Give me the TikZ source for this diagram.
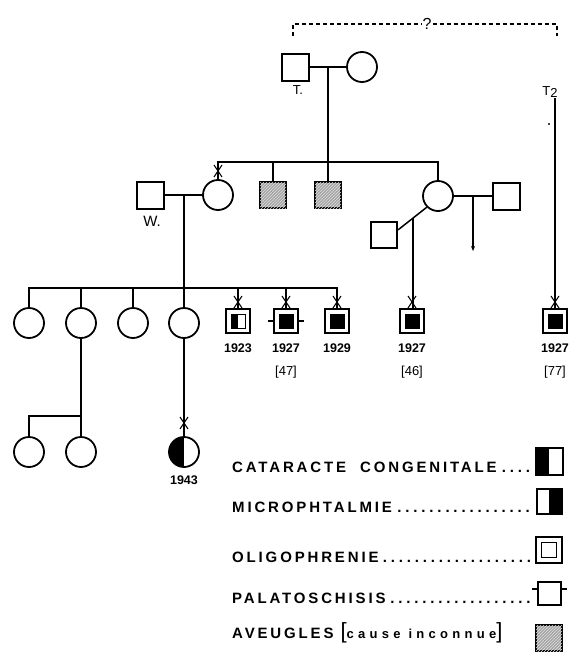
\documentclass[tikz,border=0pt]{standalone}
\usepackage{fontspec}
\setmainfont{Liberation Sans}
\newfontfamily\legfont[LetterSpace=19]{Liberation Sans}
\newfontfamily\smalllegfont[LetterSpace=33]{Liberation Sans}
\usetikzlibrary{positioning,arrows.meta,calc,patterns}
\newcommand\legdots{\cleaders\hbox to 8pt{\hss.\hss}\hfill}

\begin{document}
\begin{tikzpicture}[x=1pt,y=-1pt,
    every node/.style={font=\fontsize{13}{13}\selectfont},
    ln/.style={line width=1.5pt},
    male/.style={draw,line width=2pt,minimum size=27pt,inner sep=0pt,fill=white},
    female/.style={draw,circle,line width=1.8pt,minimum size=30pt,inner sep=0pt,fill=white},
    blind/.style={male,minimum size=26pt,fill=gray!70,
                  postaction={pattern=north east lines,pattern color=gray!25}},
    oligo/.style={draw,line width=2.2pt,minimum size=24pt,inner sep=0pt,fill=white},
    eyes/.style={draw,line width=0.8pt,minimum size=14pt,inner sep=0pt,fill=black},
    halfL/.style={path picture={\fill[black] (path picture bounding box.south west) rectangle (path picture bounding box.north);}},
    halfR/.style={path picture={\fill[black] (path picture bounding box.south) rectangle (path picture bounding box.north east);}},
    year/.style={inner sep=0pt,font=\bfseries\fontsize{12.5}{12.5}\selectfont},
    legtxt/.style={anchor=west,inner sep=0pt,font=\legfont\bfseries\fontsize{15}{15}\selectfont},
    xmk/.pic={\draw[line width=1pt] (-4,-6) -- (4,6) (-4,6) -- (4,-6);}]
  \useasboundingbox (0,0) rectangle (569,653);

  % the two families, linked by a question mark
  \node[font=\fontsize{16}{16}\selectfont,inner sep=1pt] (q) at (427,24) {?};
  \coordinate (qL) at (293,36);
  \coordinate (qR) at (557,36);
  \draw[line width=1.6pt,dash pattern=on 4pt off 3pt] (qL) |- (q.west);
  \draw[line width=1.6pt,dash pattern=on 4pt off 3pt] (q.east) -| (qR);

  % generation I
  \node[male] (T) at (295,67) {};
  \node[female] (Tw) at (362,67) {};
  \node[inner sep=0pt] (Tl) at (298,90) {T.};
  \node[inner sep=0pt] (T2) at (550,92) {T\raisebox{-2pt}{2}};
  \fill (549,124) circle (1.2);

  % generation II
  \coordinate (sib2) at (0,162);
  \node[male] (W) at (150,195) {};
  \node[inner sep=0pt,font=\fontsize{15}{15}\selectfont] (Wl) at (152,221) {W.};
  \node[female] (Ww) at (218,195) {};
  \node[blind] (h1) at (273,195) {};
  \node[blind] (h2) at (328,195) {};
  \node[female] (R) at (438,196) {};
  \node[male] (Rm) at (506,196) {};
  \node[male,minimum size=26pt] (Rs) at (384,235) {};
  \coordinate (mT) at (328,67);
  \coordinate (mW) at (184,195);
  \coordinate (mRm) at (473,196);
  \coordinate (arrE) at (473,251);
  \coordinate (mR) at ($(R.225)!0.47!(Rs.20)$);

  % generation III
  \coordinate (sib3) at (0,288);
  \foreach \n/\x in {g3a/29,g3b/81,g3c/133,g3d/184}
    \node[female] (\n) at (\x,323) {};
  \foreach \n/\x in {s23/238,s27/286,s29/337,s46/412,s77/555}
    \node[oligo] (\n) at (\x,321) {};
  \node[eyes,fill=white,halfL] (e23) at (s23) {};
  \foreach \n in {s27,s29,s46,s77}
    \node[eyes] (e\n) at (\n) {};
  \node[year] (y23) at (238,348) {1923};
  \node[year] (y27) at (286,348) {1927};
  \node[inner sep=0pt] (n47) at (286,372) {[47]};
  \node[year] (y29) at (337,348) {1929};
  \node[year] (y46) at (412,348) {1927};
  \node[inner sep=0pt] (n46) at (412,372) {[46]};
  \node[year] (y77) at (555,348) {1927};
  \node[inner sep=0pt] (n77) at (555,372) {[77]};

  % generation IV
  \coordinate (sib4) at (0,416);
  \node[female] (g4a) at (29,452) {};
  \node[female] (g4b) at (81,452) {};
  \node[female,halfL] (hc) at (184,452) {};
  \node[year] (y43) at (184,480) {1943};

  % lines of descent
  \draw[ln] (T.east) -- (Tw.west);
  \draw[ln] (mT) -- (h2.north);
  \draw[ln] (Ww.north) |- (R.north |- sib2) -- (R.north);
  \draw[ln] (h1.north) -- (h1.north |- sib2);
  \draw[ln] (W.east) -- (Ww.west);
  \draw[ln] (R.east) -- (Rm.west);
  \draw[ln,-{Stealth[length=5pt,width=4pt]}] (mRm) -- (arrE);
  \draw[ln] (R.225) -- (Rs.20);
  \draw[ln] (mR) -- (mR |- s46.north);
  \draw[ln] (T2.south -| s77.north) -- (s77.north);
  \draw[ln] (mW) -- (g3d.north);
  \draw[ln] (g3a.north) |- (s29.north |- sib3) -- (s29.north);
  \foreach \n in {g3b,g3c,s23,s27}
    \draw[ln] (\n.north) -- (\n.north |- sib3);
  \draw[ln] (s27.west) -- ++(-5,0);
  \draw[ln] (s27.east) -- ++(5,0);
  \draw[ln] (g3b.south) -- (g4b.north);
  \draw[ln] (g4a.north) |- (g4b.north |- sib4);
  \draw[ln] (g3d.south) -- (hc.north);
  \foreach \x in {238,286,337,412,555}
    \pic at (\x,302) {xmk};
  \pic at (218,171) {xmk};
  \pic at (184,423) {xmk};

  % legend
  \node[legtxt] (t1) at (232,467) {\makebox[303pt][l]{CATARACTE\ \ CONGENITALE\legdots}};
  \node[legtxt] (t2) at (232,507) {\makebox[303pt][l]{MICROPHTALMIE\legdots}};
  \node[legtxt] (t3) at (232,557) {\makebox[303pt][l]{OLIGOPHRENIE\legdots}};
  \node[legtxt] (t4) at (232,598) {\makebox[303pt][l]{PALATOSCHISIS\legdots}};
  \node[legtxt] (t5) at (232,633) {AVEUGLES\ {\mdseries\fontsize{22}{22}\selectfont[}{\smalllegfont\bfseries\fontsize{13}{13}\selectfont cause inconnue}{\mdseries\fontsize{22}{22}\selectfont]}};
  \node[male,halfL] (L1) at (549,461) {};
  \node[male,minimum size=25pt,halfR] (L2) at (549,501) {};
  \node[oligo,minimum size=26pt] (L3) at (549,550) {};
  \node[draw,line width=0.8pt,minimum size=15pt,inner sep=0pt] (L3i) at (L3) {};
  \node[male,minimum size=23pt] (L4) at (549,593) {};
  \draw[ln] ([yshift=4pt]L4.west) -- ++(-5,0);
  \draw[ln] ([yshift=4pt]L4.east) -- ++(5,0);
  \node[blind] (L5) at (549,638) {};
\end{tikzpicture}
\end{document}
